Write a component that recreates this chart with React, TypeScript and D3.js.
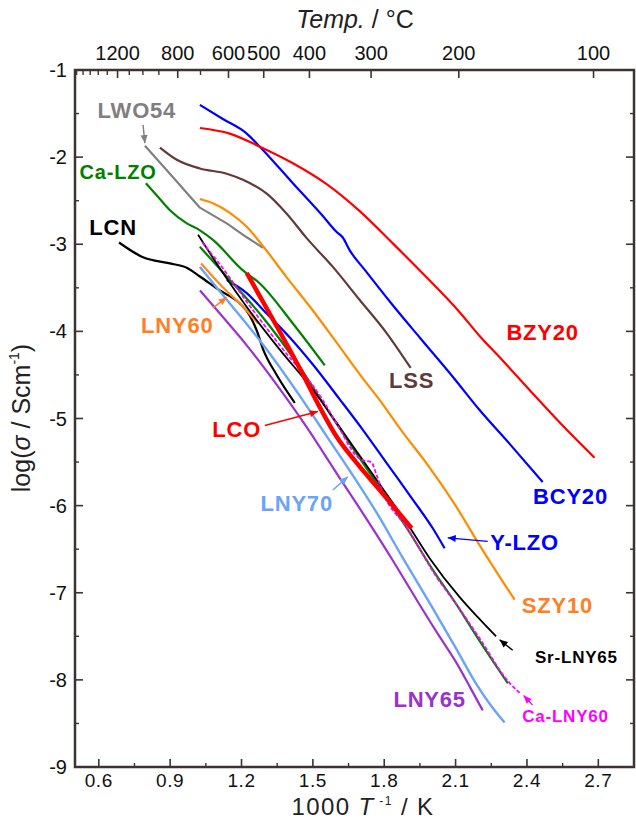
import { curveMonotoneX, curveLinear, line, scaleLinear } from "d3";
import type { ReactElement } from "react";

type Pt = readonly [number, number];
type Series = Readonly<{
  name: string;
  color: string;
  width: number;
  dash?: string;
  straight?: boolean;
  points: ReadonlyArray<Pt>;
}>;
type Note = Readonly<{
  text: string;
  color: string;
  size: number;
  at: Pt;
  arrow?: readonly [Pt, Pt];
}>;

const W = 636;
const H = 820;
const LEFT = 75;
const RIGHT = 634;
const TOP = 70;
const BOTTOM = 767;
const AXIS = "#3d3333";
const FONT = "'Liberation Sans', Arial, sans-serif";

const X_TICKS = [0.6, 0.9, 1.2, 1.5, 1.8, 2.1, 2.4, 2.7];
const X_MINOR = [0.75, 1.05, 1.35, 1.65, 1.95, 2.25, 2.55];
const Y_TICKS = [-1, -2, -3, -4, -5, -6, -7, -8, -9];
const Y_MINOR = [-1.5, -2.5, -3.5, -4.5, -5.5, -6.5, -7.5, -8.5];
const TEMP_TICKS = [1200, 800, 600, 500, 400, 300, 200, 100];
const TEMP_MINOR = [1700, 1600, 1500, 1400, 1300, 1100, 1000, 900, 700];

const BZY20: Pt[] = [
  [1.025, -1.666], [1.15, -1.73], [1.277, -1.88], [1.416, -2.07], [1.558, -2.31],
  [1.697, -2.62], [1.836, -2.99], [1.978, -3.38], [2.117, -3.78], [2.2, -4.05],
  [2.293, -4.32], [2.44, -4.76], [2.56, -5.11], [2.684, -5.45],
];
const BCY20: Pt[] = [
  [1.025, -1.4], [1.12, -1.56], [1.222, -1.73], [1.277, -1.88], [1.416, -2.3],
  [1.54, -2.67], [1.6, -2.86], [1.625, -2.92], [1.655, -3.07], [1.72, -3.3],
  [1.836, -3.7], [1.949, -4.07], [2.088, -4.52], [2.2, -4.9], [2.33, -5.3], [2.466, -5.73],
];
const LSS: Pt[] = [
  [0.857, -1.89], [0.928, -2.03], [1.025, -2.13], [1.138, -2.19], [1.206, -2.26],
  [1.306, -2.42], [1.39, -2.65], [1.474, -2.93], [1.584, -3.26], [1.697, -3.64],
  [1.81, -4.02], [1.911, -4.42],
];
const LWO54: Pt[] = [
  [0.794, -1.87], [0.912, -2.23], [1.025, -2.58], [1.138, -2.76], [1.222, -2.92], [1.29, -3.04],
];
const CA_LZO: Pt[] = [
  [0.798, -2.3], [0.844, -2.44], [0.899, -2.61], [0.97, -2.76], [1.025, -2.84],
  [1.08, -2.95], [1.206, -3.3], [1.277, -3.45], [1.416, -3.91], [1.55, -4.39],
];
const LCN: Pt[] = [
  [0.685, -2.98], [0.786, -3.15], [0.899, -3.22], [0.97, -3.27], [1.025, -3.37],
  [1.109, -3.53], [1.193, -3.68], [1.235, -3.82], [1.264, -3.99], [1.29, -4.2],
  [1.348, -4.5], [1.424, -4.82],
];
const LNY60: Pt[] = [[1.03, -3.22], [1.12, -3.49], [1.193, -3.68], [1.27, -3.91]];
const SZY10: Pt[] = [
  [1.025, -2.48], [1.08, -2.53], [1.151, -2.64], [1.222, -2.8], [1.29, -3.02],
  [1.39, -3.38], [1.5, -3.76], [1.6, -4.13], [1.71, -4.54], [1.781, -4.79],
  [1.87, -5.13], [1.99, -5.56], [2.1, -6.0], [2.2, -6.45], [2.348, -7.08],
];
const Y_LZO: Pt[] = [
  [1.138, -3.41], [1.222, -3.56], [1.3, -3.78], [1.403, -4.07], [1.5, -4.38],
  [1.613, -4.78], [1.71, -5.13], [1.823, -5.56], [1.92, -5.93], [2.004, -6.26], [2.054, -6.49],
];
const LCO: Pt[] = [
  [1.222, -3.33], [1.35, -3.95], [1.45, -4.45], [1.529, -4.87], [1.6, -5.21],
  [1.684, -5.51], [1.781, -5.82], [1.915, -6.26],
];
const SR_LNY65: Pt[] = [
  [1.017, -2.89], [1.122, -3.33], [1.222, -3.72], [1.361, -4.21], [1.5, -4.67],
  [1.6, -5.05], [1.7, -5.44], [1.8, -5.83], [1.9, -6.22], [1.99, -6.6],
  [2.117, -7.05], [2.2, -7.3], [2.27, -7.5],
];
const CA_LNY60: Pt[] = [
  [1.035, -2.98], [1.12, -3.27], [1.222, -3.66], [1.361, -4.16], [1.542, -4.79],
  [1.613, -5.12], [1.68, -5.42], [1.71, -5.48], [1.745, -5.5], [1.768, -5.65],
  [1.79, -5.82], [1.9, -6.27], [2.02, -6.82], [2.1, -7.12], [2.2, -7.52],
  [2.328, -8.04], [2.37, -8.15],
];
const GREEN_LOW: Pt[] = [
  [1.025, -3.03], [1.151, -3.41], [1.29, -3.84], [1.432, -4.36], [1.571, -4.94],
  [1.7, -5.47], [1.8, -5.87], [1.9, -6.28], [2.0, -6.72], [2.1, -7.12],
  [2.2, -7.55], [2.32, -8.04],
];
const LNY70: Pt[] = [
  [1.025, -3.26], [1.151, -3.68], [1.29, -4.15], [1.445, -4.74], [1.55, -5.17],
  [1.66, -5.62], [1.77, -6.09], [1.878, -6.6], [2.0, -7.16], [2.1, -7.63],
  [2.19, -8.06], [2.25, -8.3], [2.306, -8.49],
];
const LNY65: Pt[] = [
  [1.025, -3.53], [1.12, -3.83], [1.222, -4.16], [1.35, -4.62], [1.474, -5.1],
  [1.6, -5.63], [1.72, -6.13], [1.836, -6.63], [1.936, -7.08], [2.02, -7.45],
  [2.105, -7.81], [2.16, -8.08], [2.214, -8.35],
];

const SERIES: ReadonlyArray<Series> = [
  { name: "LSS", color: "#623a3a", width: 2.2, points: LSS },
  { name: "LWO54", color: "#808080", width: 2.2, straight: true, points: LWO54 },
  { name: "SZY10", color: "#ff8c00", width: 2.2, points: SZY10 },
  { name: "Ca-LZO", color: "#008000", width: 2.2, points: CA_LZO },
  { name: "LCN", color: "#000000", width: 2.2, points: LCN },
  { name: "LNY65", color: "#9a32cd", width: 2.2, points: LNY65 },
  { name: "LNY70", color: "#6aa4f8", width: 2.4, points: LNY70 },
  { name: "LNY60", color: "#ff8c1a", width: 2.2, points: LNY60 },
  { name: "Y-LZO", color: "#0000ff", width: 2.2, points: Y_LZO },
  { name: "Green", color: "#008000", width: 2.2, points: GREEN_LOW },
  { name: "Sr-LNY65", color: "#000000", width: 1.8, points: SR_LNY65 },
  { name: "Ca-LNY60", color: "#ff00ff", width: 1.8, dash: "4 2", points: CA_LNY60 },
  { name: "LCO", color: "#ff0000", width: 4.5, points: LCO },
  { name: "BCY20", color: "#0000ff", width: 2.2, points: BCY20 },
  { name: "BZY20", color: "#ff0000", width: 2.2, points: BZY20 },
];

const NOTES: ReadonlyArray<Note> = [
  { text: "BZY20", color: "#ff0000", size: 22, at: [2.466, -4.01] },
  { text: "BCY20", color: "#0000ff", size: 22, at: [2.583, -5.9] },
  { text: "LSS", color: "#623a3a", size: 22, at: [1.915, -4.56] },
  { text: "LWO54", color: "#7f7f7f", size: 22, at: [0.76, -1.46], arrow: [[0.786, -1.63], [0.794, -1.84]] },
  { text: "Ca-LZO", color: "#008000", size: 20, at: [0.681, -2.17] },
  { text: "LCN", color: "#000000", size: 22, at: [0.66, -2.81] },
  { text: "LNY60", color: "#ff7f27", size: 22, at: [0.93, -3.93], arrow: [[1.08, -3.73], [1.138, -3.61]] },
  { text: "LCO", color: "#ff0000", size: 22, at: [1.18, -5.13], arrow: [[1.298, -5.08], [1.521, -4.92]] },
  { text: "LNY70", color: "#6aa4f8", size: 22, at: [1.432, -5.97], arrow: [[1.584, -5.82], [1.647, -5.67]] },
  { text: "Y-LZO", color: "#0000ff", size: 22, at: [2.39, -6.42], arrow: [[2.235, -6.41], [2.067, -6.37]] },
  { text: "SZY10", color: "#ff7f27", size: 22, at: [2.528, -7.15] },
  { text: "Sr-LNY65", color: "#000000", size: 17, at: [2.608, -7.74], arrow: [[2.34, -7.66], [2.285, -7.54]] },
  { text: "LNY65", color: "#9a32cd", size: 22, at: [1.991, -8.23] },
  { text: "Ca-LNY60", color: "#ff00ff", size: 17, at: [2.562, -8.42], arrow: [[2.424, -8.29], [2.386, -8.18]] },
];

const x = scaleLinear().domain([0.5, 2.85]).range([LEFT, RIGHT]);
const y = scaleLinear().domain([-9, -1]).range([BOTTOM, TOP]);
const invT = (t: number): number => 1000 / (t + 273.15);

const arrowHead = (from: Pt, to: Pt): string => {
  const [x0, y0] = [x(from[0]), y(from[1])];
  const [x1, y1] = [x(to[0]), y(to[1])];
  const a = Math.atan2(y1 - y0, x1 - x0);
  const len = 8;
  const half = 3.5;
  const bx = x1 - len * Math.cos(a);
  const by = y1 - len * Math.sin(a);
  const px = -Math.sin(a) * half;
  const py = Math.cos(a) * half;
  return `${x1},${y1} ${bx + px},${by + py} ${bx - px},${by - py}`;
};

export default function App(): ReactElement {
  const mkLine = (s: Series) =>
    line<Pt>()
      .x((d) => x(d[0]))
      .y((d) => y(d[1]))
      .curve(s.straight ? curveLinear : curveMonotoneX)(s.points as Pt[]) ?? "";

  return (
    <svg
      width={W}
      height={H}
      viewBox={`0 0 ${W} ${H}`}
      style={{ position: "absolute", left: 0, top: 0, background: "#fff" }}
      fontFamily={FONT}
    >
      {/* curves */}
      <g fill="none" strokeLinejoin="round" strokeLinecap="butt">
        {SERIES.map((s) => (
          <path key={s.name} d={mkLine(s)} stroke={s.color} strokeWidth={s.width} strokeDasharray={s.dash} />
        ))}
      </g>

      {/* labels and arrows */}
      {NOTES.map((n) => (
        <g key={n.text}>
          <text
            x={x(n.at[0])}
            y={y(n.at[1])}
            fill={n.color}
            fontSize={n.size}
            fontWeight="700"
            textAnchor="middle"
            dominantBaseline="central"
            letterSpacing={0.8}
          >
            {n.text}
          </text>
          {n.arrow && (
            <>
              <line
                x1={x(n.arrow[0][0])}
                y1={y(n.arrow[0][1])}
                x2={x(n.arrow[1][0])}
                y2={y(n.arrow[1][1])}
                stroke={n.color}
                strokeWidth={1.4}
              />
              <polygon points={arrowHead(n.arrow[0], n.arrow[1])} fill={n.color} />
            </>
          )}
        </g>
      ))}

      {/* frame */}
      <rect x={LEFT} y={TOP} width={RIGHT - LEFT} height={BOTTOM - TOP} fill="none" stroke={AXIS} strokeWidth={2.5} />

      {/* bottom axis */}
      {X_TICKS.map((t) => (
        <g key={`xt${t}`}>
          <line x1={x(t)} x2={x(t)} y1={BOTTOM} y2={BOTTOM - 8} stroke={AXIS} strokeWidth={1.6} />
          <text x={x(t)} y={BOTTOM + 20} fontSize={19} textAnchor="middle" fill="#111" letterSpacing={0.6}>
            {t.toFixed(1)}
          </text>
        </g>
      ))}
      {X_MINOR.map((t) => (
        <line key={`xm${t}`} x1={x(t)} x2={x(t)} y1={BOTTOM} y2={BOTTOM - 4} stroke={AXIS} strokeWidth={1.4} />
      ))}

      {/* left and right axes */}
      {Y_TICKS.map((t) => (
        <g key={`yt${t}`}>
          <line x1={LEFT} x2={LEFT + 8} y1={y(t)} y2={y(t)} stroke={AXIS} strokeWidth={1.6} />
          <line x1={RIGHT} x2={RIGHT - 8} y1={y(t)} y2={y(t)} stroke={AXIS} strokeWidth={1.6} />
          <text x={LEFT - 8} y={y(t)} fontSize={20} textAnchor="end" dominantBaseline="central" fill="#111">
            {t}
          </text>
        </g>
      ))}
      {Y_MINOR.map((t) => (
        <g key={`ym${t}`}>
          <line x1={LEFT} x2={LEFT + 4} y1={y(t)} y2={y(t)} stroke={AXIS} strokeWidth={1.4} />
          <line x1={RIGHT} x2={RIGHT - 4} y1={y(t)} y2={y(t)} stroke={AXIS} strokeWidth={1.4} />
        </g>
      ))}

      {/* top temperature axis */}
      {TEMP_TICKS.map((t) => (
        <g key={`tt${t}`}>
          <line x1={x(invT(t))} x2={x(invT(t))} y1={TOP} y2={TOP + 8} stroke={AXIS} strokeWidth={1.6} />
          <text x={x(invT(t))} y={TOP - 10} fontSize={20} textAnchor="middle" fill="#111">
            {t}
          </text>
        </g>
      ))}
      {TEMP_MINOR.map((t) => (
        <line key={`tm${t}`} x1={x(invT(t))} x2={x(invT(t))} y1={TOP} y2={TOP + 5} stroke={AXIS} strokeWidth={1.4} />
      ))}

      {/* axis titles */}
      <text x={355} y={28} fontSize={25} textAnchor="middle" fill="#222">
        <tspan fontStyle="italic">Temp.</tspan>
        <tspan> / °C</tspan>
      </text>
      <text x={363} y={815} fontSize={24} textAnchor="middle" fill="#222" letterSpacing={1.4}>
        <tspan>1000 </tspan>
        <tspan fontStyle="italic">T</tspan>
        <tspan fontSize={12} dy={-10}> -1</tspan>
        <tspan dy={10}> / K</tspan>
      </text>
      <text transform="translate(30,418) rotate(-90)" fontSize={25} textAnchor="middle" fill="#222">
        <tspan>log(</tspan>
        <tspan fontStyle="italic">σ</tspan>
        <tspan> / Scm</tspan>
        <tspan fontSize={14} dy={-11}>-1</tspan>
        <tspan dy={11}>)</tspan>
      </text>
    </svg>
  );
}
